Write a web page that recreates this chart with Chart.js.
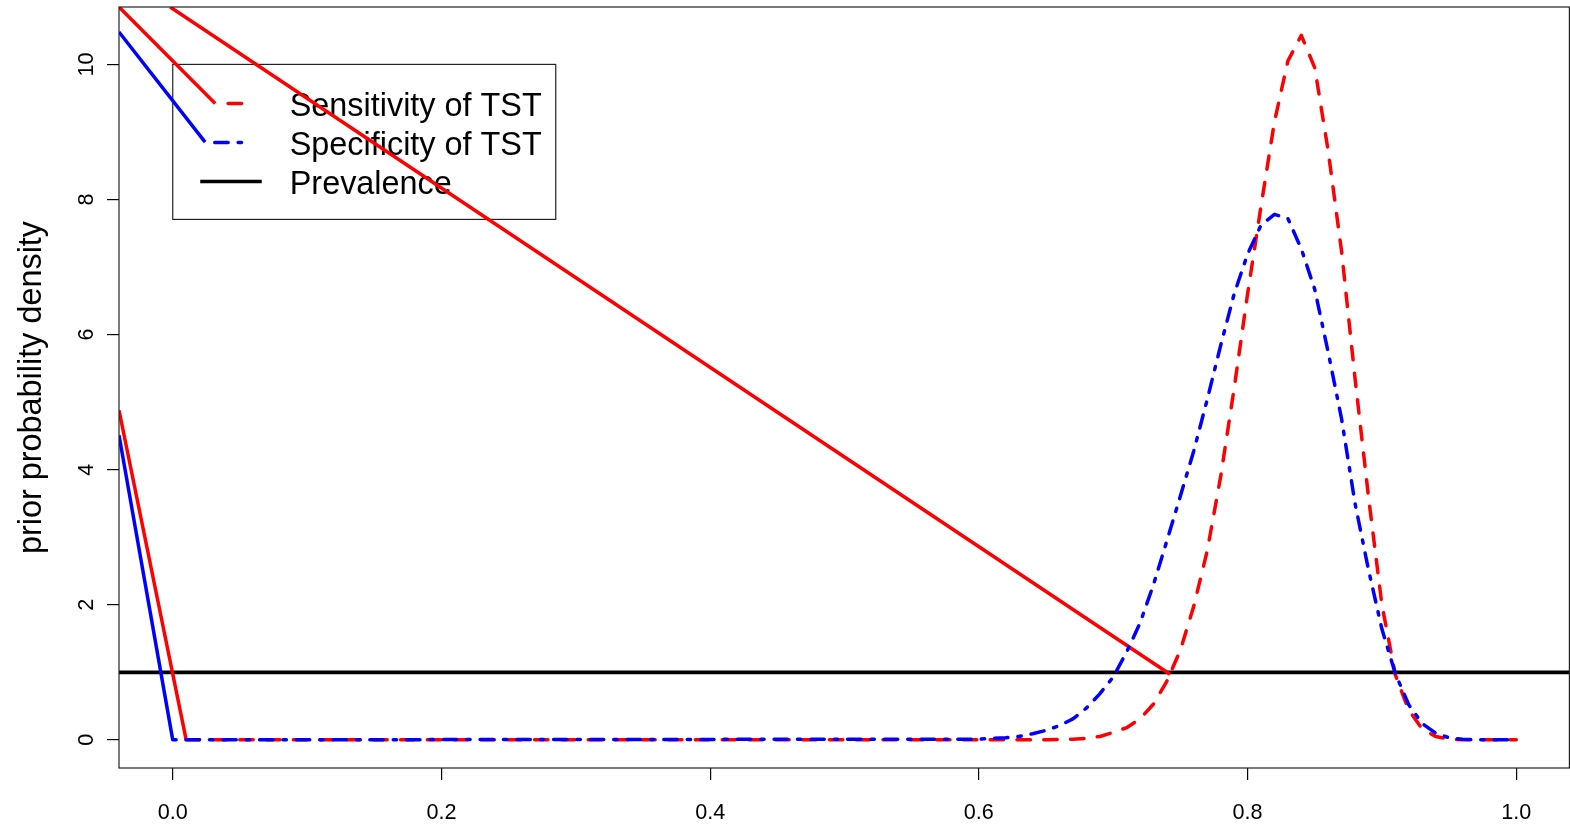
<!DOCTYPE html>
<html>
<head>
<meta charset="utf-8">
<script src="https://cdn.jsdelivr.net/npm/chart.js@4.4.1/dist/chart.umd.min.js"></script>
<style>
  html, body { margin: 0; padding: 0; background: #fff; }
  #wrap { width: 1570px; height: 826px; }
</style>
</head>
<body>
<div id="wrap"><canvas id="density-chart" width="1570" height="826"></canvas></div>
<script>
// prior density of the sensitivity of TST (red, dashed)
let sensX = [0.01, 0.60, 0.61, 0.62, 0.63, 0.64, 0.65, 0.66, 0.67, 0.68, 0.69, 0.70, 0.71, 0.72, 0.73, 0.74, 0.75, 0.76, 0.77, 0.78, 0.79, 0.80,
  0.81, 0.82, 0.83, 0.84, 0.85, 0.86, 0.87, 0.88, 0.89, 0.90, 0.91, 0.92, 0.93, 0.94, 0.95, 0.96, 0.97, 0.98, 0.99, 1.00];
let sensY = [0, 0, 0, 0, 0, 0, 0, 0.005, 0.01, 0.02, 0.05, 0.11, 0.18, 0.31, 0.53, 0.87, 1.33, 1.98, 2.80, 3.90, 5.20, 6.60,
  7.90, 9.15, 10.05, 10.43, 9.95, 8.72, 7.23, 5.35, 3.60, 2.00, 0.96, 0.44, 0.16, 0.05, 0.01, 0, 0, 0, 0, 0];

// prior density of the specificity of TST (blue, dot-dash)
let specX = [0.00, 0.60, 0.61, 0.62, 0.63, 0.64, 0.65, 0.66, 0.67, 0.68, 0.69, 0.70, 0.71, 0.72, 0.73, 0.74, 0.75, 0.76, 0.77, 0.78, 0.79, 0.80,
  0.81, 0.82, 0.83, 0.84, 0.85, 0.86, 0.87, 0.88, 0.89, 0.90, 0.91, 0.92, 0.93, 0.94, 0.95, 0.96, 0.97, 0.98, 0.99, 1.00];
let specY = [0, 0.01, 0.02, 0.03, 0.05, 0.09, 0.14, 0.21, 0.31, 0.47, 0.68, 0.93, 1.30, 1.73, 2.30, 2.95, 3.61, 4.28, 5.04, 5.84, 6.60, 7.19,
  7.62, 7.78, 7.72, 7.27, 6.67, 5.74, 4.75, 3.50, 2.52, 1.64, 0.98, 0.52, 0.24, 0.10, 0.03, 0.01, 0, 0, 0, 0];

// prevalence prior (uniform)
let prevX = [-0.04, 1.04];
let prevY = [1, 1];

// the stray solid segments that show in the picture
let sensStubX = [-0.04, 0.01];
let sensStubY = [4.88, 0];
let specStubX = [-0.04, 0.00];
let specStubY = [4.51, 0];
let sensLeaderX = [-0.04, 0.0316];
let sensLeaderY = [10.85, 9.42];
let specLeaderX = [-0.04, 0.0241];
let specLeaderY = [10.48, 8.85];
let sensLongX = [-0.0019, 0.7423];
let sensLongY = [10.85, 0.97];

let xTicks = [0, 0.2, 0.4, 0.6, 0.8, 1.0];
let xTickLabels = ["0.0", "0.2", "0.4", "0.6", "0.8", "1.0"];
let yTicks = [0, 2, 4, 6, 8, 10];
let yTickLabels = ["0", "2", "4", "6", "8", "10"];

let legendLabels = ["Sensitivity of TST", "Specificity of TST", "Prevalence"];
let yTitle = "prior probability density";

const FONT = '"Liberation Sans", Arial, Helvetica, sans-serif';
const RED = "#ff0000";
const BLUE = "#0000ff";
const LW = 3.5;
const redDash = [13.4, 13.4];
const blueDash = [3.35, 10, 13.4, 10];

const pts = (xs, ys) => xs.map((x, i) => ({ x: x, y: ys[i] }));

function lineSet(xs, ys, color, dash, width) {
  return {
    data: pts(xs, ys),
    borderColor: color,
    borderWidth: width || LW,
    borderDash: dash || [],
    borderCapStyle: dash ? "round" : "butt",
    borderJoinStyle: "round",
    pointRadius: 0,
    fill: false,
    tension: 0,
  };
}

// R style frame, rotated y labels, y title and legend
const rPlot = {
  id: "rPlot",
  beforeDatasetsDraw(chart) {
    const { ctx, scales: { x, y } } = chart;
    const lx = x.getPixelForValue(0);
    const ly = y.getPixelForValue(10);
    ctx.save();
    ctx.strokeStyle = "#222";
    ctx.lineWidth = 1.2;
    ctx.strokeRect(lx, ly, 383, 155);

    const rows = [ly + 39, ly + 78, ly + 117];
    ctx.lineWidth = LW;
    ctx.lineCap = "round";
    // red dashed sample
    ctx.strokeStyle = RED;
    ctx.setLineDash(redDash);
    ctx.lineDashOffset = 13.4;
    ctx.beginPath(); ctx.moveTo(lx + 42, rows[0]); ctx.lineTo(lx + 72, rows[0]); ctx.stroke();
    // blue dot-dash sample
    ctx.strokeStyle = BLUE;
    ctx.setLineDash(blueDash);
    ctx.lineDashOffset = 3.35;
    ctx.beginPath(); ctx.moveTo(lx + 32, rows[1]); ctx.lineTo(lx + 72, rows[1]); ctx.stroke();
    // black solid sample
    ctx.setLineDash([]);
    ctx.lineCap = "butt";
    ctx.strokeStyle = "#000";
    ctx.beginPath(); ctx.moveTo(lx + 27.5, rows[2]); ctx.lineTo(lx + 89, rows[2]); ctx.stroke();

    ctx.fillStyle = "#000";
    ctx.font = "32.4px " + FONT;
    ctx.textAlign = "left";
    ctx.textBaseline = "alphabetic";
    legendLabels.forEach((t, i) => ctx.fillText(t, lx + 117, rows[i] + 13));
    ctx.restore();
  },
  afterDraw(chart) {
    const { ctx, chartArea: a, scales: { y } } = chart;
    ctx.save();
    ctx.strokeStyle = "#222";
    ctx.lineWidth = 1.2;
    ctx.strokeRect(a.left, a.top, a.right - a.left - 0.6, a.bottom - a.top);

    ctx.fillStyle = "#000";
    ctx.textAlign = "center";
    ctx.textBaseline = "alphabetic";
    ctx.font = "21.6px " + FONT;
    yTicks.forEach((v, i) => {
      ctx.save();
      ctx.translate(a.left - 25.9, y.getPixelForValue(v));
      ctx.rotate(-Math.PI / 2);
      ctx.fillText(yTickLabels[i], 0, 0);
      ctx.restore();
    });
    ctx.font = "32.4px " + FONT;
    ctx.translate(a.left - 77.7, (a.top + a.bottom) / 2);
    ctx.rotate(-Math.PI / 2);
    ctx.fillText(yTitle, 0, 0);
    ctx.restore();
  },
};

let ctx = document.getElementById("density-chart").getContext("2d");

let densityChart = new Chart(ctx, {
  type: "line",
  data: {
    datasets: [
      lineSet(specX, specY, BLUE, blueDash),
      lineSet(specStubX, specStubY, BLUE),
      lineSet(specLeaderX, specLeaderY, BLUE),
      lineSet(sensX, sensY, RED, redDash),
      lineSet(sensStubX, sensStubY, RED),
      lineSet(sensLeaderX, sensLeaderY, RED),
      lineSet(sensLongX, sensLongY, RED),
      lineSet(prevX, prevY, "#000000", null, 3.8),
    ],
  },
  options: {
    responsive: false,
    devicePixelRatio: 1,
    animation: false,
    events: [],
    layout: { padding: { top: 7, right: 0, bottom: 0, left: 0 } },
    plugins: {
      legend: { display: false },
      tooltip: { enabled: false },
    },
    scales: {
      x: {
        type: "linear",
        min: -0.04,
        max: 1.04,
        afterBuildTicks: (axis) => { axis.ticks = xTicks.map((v) => ({ value: v })); },
        afterFit: (axis) => { axis.height = 58; },
        border: { display: false },
        grid: { drawOnChartArea: false, drawTicks: true, tickLength: 12, color: "#000", lineWidth: 1.2 },
        ticks: {
          color: "#000",
          font: { family: FONT, size: 21.6 },
          padding: 20,
          maxRotation: 0,
          autoSkip: false,
          callback: (v) => xTickLabels[xTicks.indexOf(v)],
        },
      },
      y: {
        type: "linear",
        min: -0.417,
        max: 10.85,
        afterBuildTicks: (axis) => { axis.ticks = yTicks.map((v) => ({ value: v })); },
        afterFit: (axis) => { axis.width = 119; },
        border: { display: false },
        grid: { drawOnChartArea: false, drawTicks: true, tickLength: 12, color: "#000", lineWidth: 1.2 },
        ticks: { display: false },
      },
    },
  },
  plugins: [rPlot],
});
</script>
</body>
</html>
